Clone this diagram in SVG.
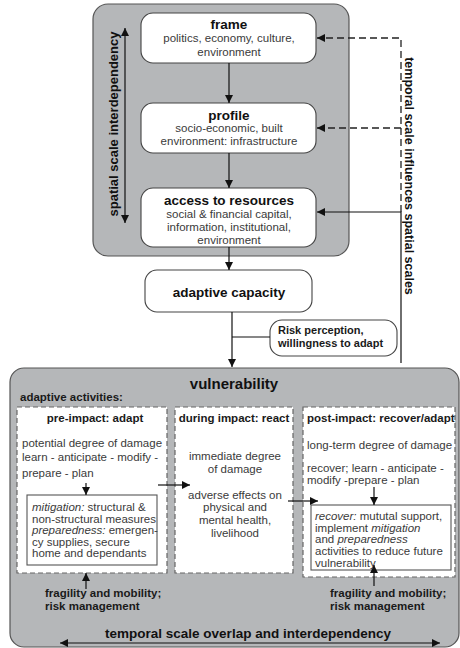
<svg xmlns="http://www.w3.org/2000/svg" width="460" height="648" viewBox="0 0 460 648">
<style>
.panel{fill:#b5b7b9;stroke:#555;stroke-width:1.2}
.box{fill:#fff;stroke:#444;stroke-width:1.1}
.dbox{fill:#fff;stroke:#666;stroke-width:1.2;stroke-dasharray:5 3}
.ibox{fill:#fff;stroke:#555;stroke-width:1.1}
.ln{fill:none;stroke:#111;stroke-width:1.2}
.dl{fill:none;stroke:#222;stroke-width:1.3;stroke-dasharray:7 4}
text{font-family:"Liberation Sans",Arial,sans-serif;fill:#3a3a3a}
.t{font-weight:bold;font-size:13.5px;fill:#111}
.b{font-size:11.5px}
.bb{font-weight:bold;font-size:11.5px;fill:#1a1a1a}
.c{text-anchor:middle}
</style>
<defs>
<marker id="ah" viewBox="0 0 10 10" refX="10" refY="5" markerWidth="8" markerHeight="8" markerUnits="userSpaceOnUse" orient="auto-start-reverse">
<path d="M0,0 L10,5 L0,10 z" fill="#111"/>
</marker>
</defs>

<g id="spatial-panel">
<rect class="panel" x="93" y="4" width="256" height="252" rx="15"/>
<text class="t" transform="translate(118,124) rotate(-90)" text-anchor="middle" style="font-size:13px">spatial scale interdependency</text>
</g>
<g id="vulnerability-panel">
<rect class="panel" x="10" y="368" width="449" height="279" rx="14"/>
<text class="t c" x="234" y="389" style="font-size:15px">vulnerability</text>
<text class="bb" x="20" y="401">adaptive activities:</text>
<text class="t c" x="248" y="638">temporal scale overlap and interdependency</text>
</g>

<g id="frame">
<rect class="box" x="141" y="13" width="175" height="50" rx="12"/>
<text class="t c" x="229" y="29">frame</text>
<text class="b c" x="229" y="42">politics, economy, culture,</text>
<text class="b c" x="229" y="56">environment</text>
</g>
<g id="profile">
<rect class="box" x="141" y="103" width="175" height="50" rx="12"/>
<text class="t c" x="229" y="120">profile</text>
<text class="b c" x="229" y="132">socio-economic, built</text>
<text class="b c" x="229" y="145">environment: infrastructure</text>
</g>
<g id="access">
<rect class="box" x="141" y="188" width="175" height="59" rx="12"/>
<text class="t c" x="229" y="205">access to resources</text>
<text class="b c" x="229" y="218">social &amp; financial capital,</text>
<text class="b c" x="229" y="231">information, institutional,</text>
<text class="b c" x="229" y="244">environment</text>
</g>
<g id="adaptive-capacity">
<rect class="box" x="145" y="270" width="167" height="42" rx="12"/>
<text class="t c" x="229" y="297">adaptive capacity</text>
</g>
<g id="risk-perception">
<rect class="box" x="270" y="320" width="127" height="36" rx="12"/>
<text class="bb" x="278" y="334" style="font-size:11px">Risk perception,</text>
<text class="bb" x="278" y="347" style="font-size:11px">willingness to adapt</text>
</g>
<g id="temporal-label">
<text class="t" transform="translate(405,176) rotate(90)" text-anchor="middle" style="font-size:12.5px">temporal scale influences spatial scales</text>
</g>

<g id="pre-impact">
<rect class="dbox" x="17" y="407" width="150" height="166"/>
<text class="bb c" x="95" y="422">pre-impact: adapt</text>
<text class="b" x="22" y="447">potential degree of damage</text>
<text class="b" x="22" y="461">learn - anticipate - modify -</text>
<text class="b" x="22" y="477">prepare - plan</text>
<rect class="ibox" x="27" y="495" width="130" height="70"/>
<text class="b" x="32" y="511"><tspan font-style="italic">mitigation:</tspan> structural &amp;</text>
<text class="b" x="32" y="522.5">non-structural measures</text>
<text class="b" x="32" y="534"><tspan font-style="italic">preparedness:</tspan> emergen-</text>
<text class="b" x="32" y="545.5">cy supplies, secure</text>
<text class="b" x="32" y="557">home and dependants</text>
</g>
<g id="during-impact">
<rect class="dbox" x="175" y="407" width="118" height="166"/>
<text class="bb c" x="234" y="422">during impact: react</text>
<text class="b c" x="235" y="460">immediate degree</text>
<text class="b c" x="235" y="473">of damage</text>
<text class="b c" x="235" y="499">adverse effects on</text>
<text class="b c" x="235" y="511">physical and</text>
<text class="b c" x="235" y="524">mental health,</text>
<text class="b c" x="235" y="537">livelihood</text>
</g>
<g id="post-impact">
<rect class="dbox" x="303" y="407" width="152" height="170"/>
<text class="bb" x="307" y="422">post-impact: recover/adapt</text>
<text class="b" x="307" y="449">long-term degree of damage</text>
<text class="b" x="307" y="472">recover; learn - anticipate -</text>
<text class="b" x="307" y="484">modify -prepare - plan</text>
<rect class="ibox" x="311" y="505" width="140" height="65"/>
<text class="b" x="315" y="520"><tspan font-style="italic">recover:</tspan> mututal support,</text>
<text class="b" x="315" y="531.7">implement <tspan font-style="italic">mitigation</tspan></text>
<text class="b" x="315" y="543.4">and <tspan font-style="italic">preparedness</tspan></text>
<text class="b" x="315" y="555">activities to reduce future</text>
<text class="b" x="315" y="566.5">vulnerability</text>
</g>
<g id="fragility-left">
<text class="bb" x="45" y="597">fragility and mobility;</text>
<text class="bb" x="45" y="610">risk management</text>
</g>
<g id="fragility-right">
<text class="bb" x="330" y="597">fragility and mobility;</text>
<text class="bb" x="330" y="610">risk management</text>
</g>

<g id="connectors">
<line class="ln" x1="125" y1="28" x2="125" y2="223" marker-start="url(#ah)" marker-end="url(#ah)"/>
<line class="ln" x1="229" y1="63" x2="229" y2="103" marker-end="url(#ah)"/>
<line class="ln" x1="229" y1="153" x2="229" y2="188" marker-end="url(#ah)"/>
<line class="ln" x1="229" y1="247" x2="229" y2="270" marker-end="url(#ah)"/>
<line class="ln" x1="232" y1="312" x2="232" y2="367" marker-end="url(#ah)"/>
<line class="ln" x1="232" y1="337" x2="270" y2="337"/>
<path class="dl" d="M401,212 V38 H317" marker-end="url(#ah)"/>
<line class="dl" x1="401" y1="128" x2="317" y2="128" marker-end="url(#ah)"/>
<path class="ln" d="M401,363 V212 H317" marker-end="url(#ah)"/>
<line class="ln" x1="86" y1="483" x2="86" y2="495" marker-end="url(#ah)"/>
<line class="ln" x1="158" y1="485" x2="190" y2="485" marker-end="url(#ah)"/>
<line class="ln" x1="288" y1="501" x2="318" y2="501" marker-end="url(#ah)"/>
<line class="ln" x1="374" y1="487" x2="374" y2="505" marker-end="url(#ah)"/>
<line class="ln" x1="86" y1="589" x2="86" y2="573" marker-end="url(#ah)"/>
<line class="ln" x1="374" y1="586" x2="374" y2="565" marker-end="url(#ah)"/>
<line class="ln" x1="60" y1="643" x2="440" y2="643" marker-start="url(#ah)" marker-end="url(#ah)"/>
</g>
</svg>
